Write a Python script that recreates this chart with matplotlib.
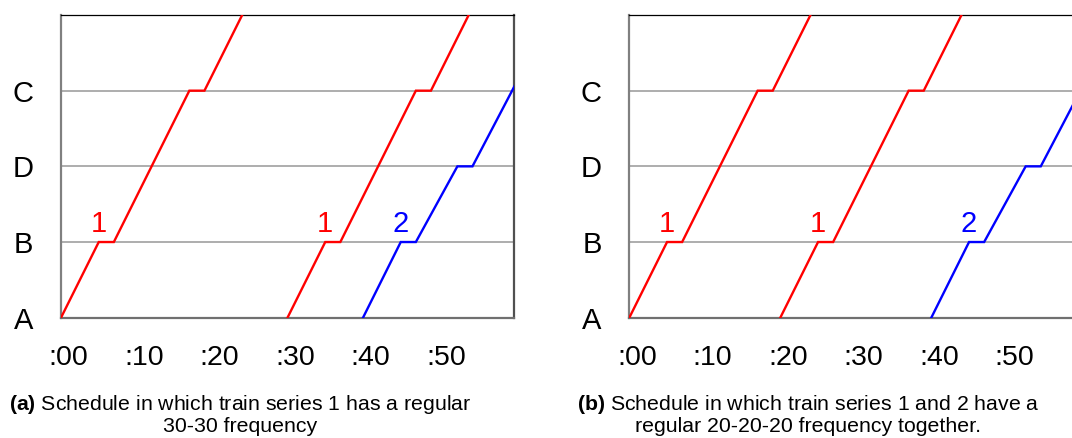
import matplotlib
matplotlib.use('Agg')
import matplotlib.pyplot as plt
import matplotlib.transforms as mtransforms

plt.rcParams['font.family'] = 'Liberation Sans'
plt.rcParams['mathtext.fontset'] = 'custom'
plt.rcParams['mathtext.bf'] = 'Liberation Sans:bold'
plt.rcParams['mathtext.rm'] = 'Liberation Sans'

# stations bottom to top (level 4 = next station, unnamed)
stations = ['A', 'B', 'D', 'C']
time_ticks = [0, 10, 20, 30, 40, 50]
time_labels = [':00', ':10', ':20', ':30', ':40', ':50']

# (a) series 1 at :00 and :30, series 2 at :40
a_red1_t = [0, 5, 7, 17, 19, 24]
a_red1_s = [0, 1, 1, 3, 3, 4]
a_red2_t = [30, 35, 37, 47, 49, 54]
a_red2_s = [0, 1, 1, 3, 3, 4]
a_blue_t = [40, 45, 47, 52.5, 54.5, 65]
a_blue_s = [0, 1, 1, 2, 2, 4]

# (b) series 1 at :00 and :20, series 2 at :40
b_red1_t = [0, 5, 7, 17, 19, 24]
b_red1_s = [0, 1, 1, 3, 3, 4]
b_red2_t = [20, 25, 27, 37, 39, 44]
b_red2_s = [0, 1, 1, 3, 3, 4]
b_blue_t = [40, 45, 47, 52.5, 54.5, 65]
b_blue_s = [0, 1, 1, 2, 2, 4]

# series labels (time at B, text, colour)
a_lab_t = [5, 35, 45]
b_lab_t = [5, 25, 45]
lab_txt = ['1', '1', '2']
lab_col = ['red', 'red', 'blue']

captions = [(r'$\bf{(a)}$ Schedule in which train series 1 has a regular', '30-30 frequency'),
            (r'$\bf{(b)}$ Schedule in which train series 1 and 2 have a',
             'regular 20-20-20 frequency together.')]

W, H = 1072, 438
fig = plt.figure(figsize=(W / 100, H / 100), dpi=100)


def draw_panel(left, lines, lab_t, caption, cap_x):
    ax = fig.add_axes([left / W, 1 - 317.7 / H, 453 / W, (317.7 - 15) / H])
    for t, s, c in lines:
        ax.plot(t, s, color=c, lw=1.7, zorder=3, solid_joinstyle='miter')
    for t, txt, c in zip(lab_t, lab_txt, lab_col):
        ax.annotate(txt, (t, 1), xytext=(0, 3), textcoords='offset points',
                    ha='center', va='bottom', color=c, fontsize=21)
    ax.set_xlim(0, 60)
    ax.set_ylim(0, 4)
    ax.set_yticks(range(len(stations)))
    ax.set_yticklabels(stations, fontsize=21)
    ax.set_xticks(time_ticks)
    ax.set_xticklabels(time_labels, fontsize=20.5)
    ax.tick_params(length=0)
    ax.tick_params(axis='y', pad=20)
    ax.tick_params(axis='x', pad=20)
    for lbl in ax.get_xticklabels():
        lbl.set_transform(lbl.get_transform() +
                          mtransforms.ScaledTranslation(0.075, 0, fig.dpi_scale_trans))
    ax.grid(axis='y', color='#a0a0a0', lw=1.2)
    ax.set_axisbelow(True)
    ax.spines['top'].set_color('black')
    ax.spines['top'].set_linewidth(0.9)
    ax.spines['left'].set_color('#808080')
    ax.spines['left'].set_linewidth(1.6)
    ax.spines['bottom'].set_color('#707070')
    ax.spines['bottom'].set_linewidth(1.6)
    ax.spines['right'].set_color('#505050')
    ax.spines['right'].set_linewidth(1.6)
    fig.text(cap_x / W, 1 - 405 / H, caption[0], ha='center', va='center', fontsize=15.3)
    fig.text(cap_x / W, 1 - 427 / H, caption[1], ha='center', va='center', fontsize=15.3)
    return ax


draw_panel(61, [(a_red1_t, a_red1_s, 'red'), (a_red2_t, a_red2_s, 'red'),
                (a_blue_t, a_blue_s, 'blue')], a_lab_t, captions[0], 240)
draw_panel(629.3, [(b_red1_t, b_red1_s, 'red'), (b_red2_t, b_red2_s, 'red'),
                   (b_blue_t, b_blue_s, 'blue')], b_lab_t, captions[1], 808)

fig.savefig('out.png', dpi=100)
